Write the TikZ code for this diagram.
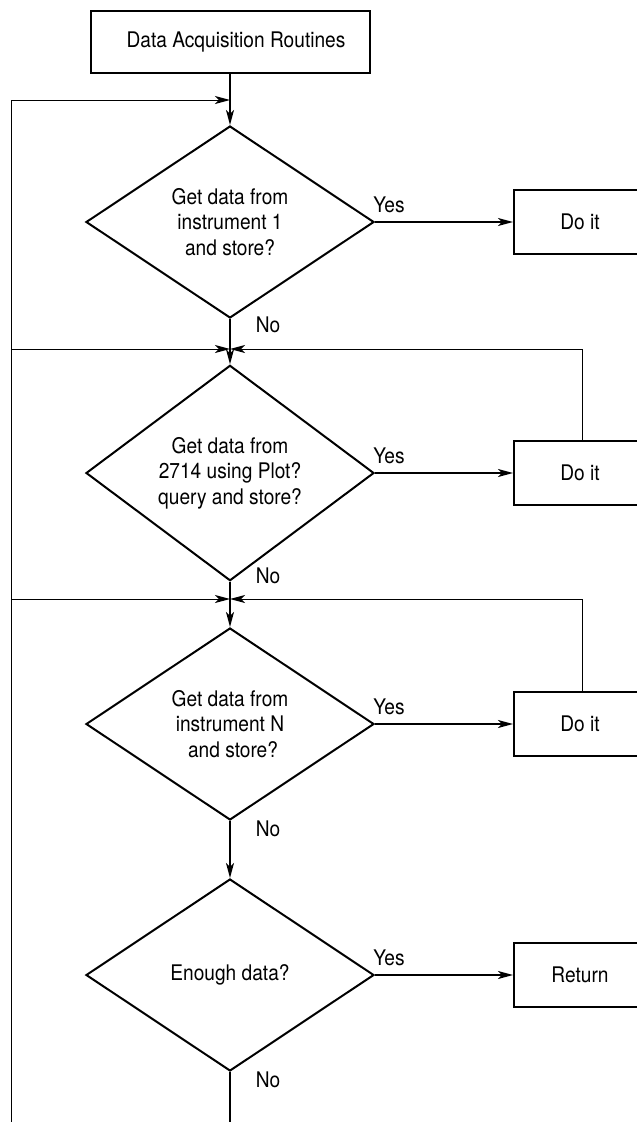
\documentclass[tikz,border=0pt]{standalone}
\usepackage{fontspec}
\setmainfont{TeX Gyre Heros}[FakeStretch=0.89]
\usetikzlibrary{shapes.geometric, positioning, arrows.meta}
\tikzset{
x=1pt, y=-1pt, % picture measured in pixels, downwards
>={Stealth[length=15pt,width=8pt,inset=4pt]}, % narrow arrow heads
node distance=138pt, % gap between a question and its action box
every node/.style={font=\fontsize{21.5}{25.5}\selectfont},
decision/.style={diamond, draw, line width=2pt, minimum width=288pt, minimum height=192pt, inner sep=0pt, align=center},
action/.style={rectangle, draw, line width=2pt, minimum width=132pt, minimum height=64pt},
mainline/.style={line width=1.4pt},
feed/.style={line width=1pt},
}

\begin{document}
\begin{tikzpicture}
            \path[use as bounding box] (0,0) rectangle (637,1122);
            \clip (0,0) rectangle (637,1122);
            % questions down the middle
            \node[action, minimum width=279pt, minimum height=62pt] (acq) at (230,42) {\hspace{12pt}Data Acquisition Routines};
            \node[decision] (inst1) at (230,222) {Get data from\\instrument 1\\and store?};
            \node[decision] (plot) at (230,473) {Get data from\\2714 using Plot?\\query and store?};
            \node[decision] (instN) at (230,724) {Get data from\\instrument N\\\hspace{6pt}and store?};
            \node[decision] (enough) at (230,975) {Enough data?};
            % actions on the right
            \node[action, right=of inst1] (do1) {Do it};
            \node[action, right=of plot] (do2) {Do it};
            \node[action, right=of instN] (doN) {Do it};
            \node[action, right=of enough] (ret) {Return};
            % junction points
            \coordinate (j0) at (230,100);
            \coordinate (j1) at (230,349);
            \coordinate (j2) at (230,599);
            \coordinate (left0) at (11,100);
            \coordinate (left1) at (11,349);
            \coordinate (left2) at (11,599);
            \coordinate (leftend) at (11,1130);
            \coordinate (mainend) at (230,1130);
            \coordinate (right1) at (582,349);
            \coordinate (right2) at (582,599);
            % main flow
            \draw[mainline, ->] (acq) -- (inst1);
            \draw[mainline, ->] (inst1) -- (plot);
            \draw[mainline, ->] (plot) -- (instN);
            \draw[mainline, ->] (instN) -- (enough);
            \draw[mainline] (enough) -- (mainend);
            \draw[mainline, ->] (inst1) -- (do1);
            \draw[mainline, ->] (plot) -- (do2);
            \draw[mainline, ->] (instN) -- (doN);
            \draw[mainline, ->] (enough) -- (ret);
            % loops back
            \draw[feed] (leftend) -- (left0);
            \draw[feed, ->] (left0) -- (j0);
            \draw[feed, ->] (left1) -- (j1);
            \draw[feed, ->] (left2) -- (j2);
            \draw[feed, ->] (do2.north -| right1) |- (j1);
            \draw[feed, ->] (doN.north -| right2) |- (j2);
            % branch labels
            \node (yes1) at (389,205) {Yes};
            \node (yes2) at (389,456) {Yes};
            \node (yes3) at (389,707) {Yes};
            \node (yes4) at (389,958) {Yes};
            \node (no1) at (268,325) {No};
            \node (no2) at (268,576) {No};
            \node (no3) at (268,829) {No};
            \node (no4) at (268,1080) {No};
        \end{tikzpicture}
\end{document}
